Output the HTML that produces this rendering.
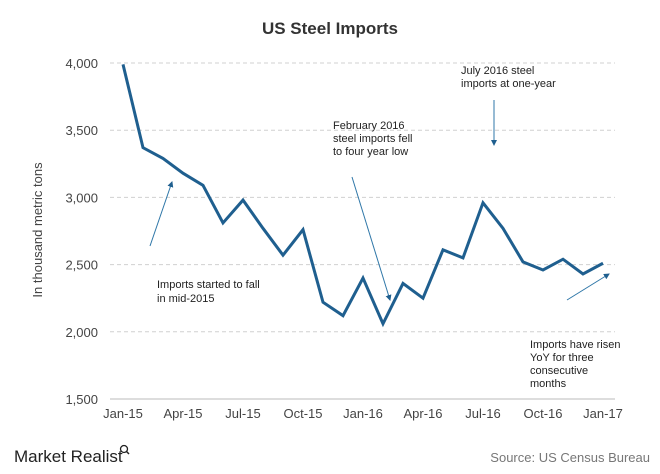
<!DOCTYPE html>
<html><head><meta charset="utf-8"><style>
body{margin:0;background:#fff;font-family:"Liberation Sans",sans-serif}
svg text{font-family:"Liberation Sans",sans-serif}
</style></head><body>
<svg width="660" height="469" viewBox="0 0 660 469">
<text x="330" y="34" text-anchor="middle" font-size="17" font-weight="bold" fill="#333">US Steel Imports</text>
<text transform="translate(42,230) rotate(-90)" text-anchor="middle" font-size="13" fill="#444">In thousand metric tons</text>
<g id="grid"></g><g id="yticks"></g><g id="xticks"></g>
<path id="line" fill="none" stroke="#1f5f8f" stroke-width="3" stroke-linejoin="miter"/>
<g font-size="11" fill="#222">
<text x="157" y="288">Imports started to fall</text>
<text x="157" y="302">in mid-2015</text>
<text x="333" y="129">February 2016</text>
<text x="333" y="142">steel imports fell</text>
<text x="333" y="155">to four year low</text>
<text x="461" y="74">July 2016 steel</text>
<text x="461" y="87">imports at one-year</text>
<text x="530" y="348">Imports have risen</text>
<text x="530" y="361">YoY for three</text>
<text x="530" y="374">consecutive</text>
<text x="530" y="387">months</text>
</g>
<defs><marker id="ah" markerWidth="6" markerHeight="6" refX="5" refY="3" orient="auto" markerUnits="userSpaceOnUse"><path d="M0,0 L6,3 L0,6 z" fill="#1f5f8f"/></marker></defs>
<g stroke="#2f77a8" stroke-width="1">
<line x1="150" y1="246" x2="172" y2="182" marker-end="url(#ah)"/>
<line x1="352" y1="177" x2="390" y2="300" marker-end="url(#ah)"/>
<line x1="494" y1="100" x2="494" y2="145" marker-end="url(#ah)"/>
<line x1="567" y1="300" x2="609" y2="274" marker-end="url(#ah)"/>
</g>
<g>
<text x="14" y="462" font-size="17" fill="#222">Market Realist</text>
<circle cx="124" cy="449" r="3.5" fill="none" stroke="#222" stroke-width="1.3"/>
<line x1="126.5" y1="451.5" x2="129" y2="454" stroke="#222" stroke-width="1.5"/>
</g>
<text x="650" y="462" text-anchor="end" font-size="13" fill="#777">Source: US Census Bureau</text>
</svg>
<script>
const values=[3990,3370,3290,3180,3090,2810,2980,2770,2570,2760,2220,2120,2400,2060,2360,2250,2610,2550,2960,2770,2520,2460,2540,2430,2510];
const yTicks=[1500,2000,2500,3000,3500,4000];
const yTickLabels=["1,500","2,000","2,500","3,000","3,500","4,000"];
const xTickLabels=["Jan-15","Apr-15","Jul-15","Oct-15","Jan-16","Apr-16","Jul-16","Oct-16","Jan-17"];
const xTickIdx=[0,3,6,9,12,15,18,21,24];
const NS="http://www.w3.org/2000/svg";
const x=i=>123+i*20;
const y=v=>399-(v-1500)*(336/2500);
const g=document.getElementById('grid'),yt=document.getElementById('yticks'),xt=document.getElementById('xticks');
yTicks.forEach((v,k)=>{
 const l=document.createElementNS(NS,'line');
 l.setAttribute('x1',110);l.setAttribute('x2',615);l.setAttribute('y1',y(v));l.setAttribute('y2',y(v));
 l.setAttribute('stroke',v===1500?'#bbb':'#d0d0d0');l.setAttribute('stroke-dasharray',v===1500?'':'4,3');
 
 
 g.appendChild(l);
 const t=document.createElementNS(NS,'text');
 t.setAttribute('x',98);t.setAttribute('y',y(v)+5);t.setAttribute('text-anchor','end');t.setAttribute('font-size','13');t.setAttribute('fill','#444');
 t.textContent=yTickLabels[k];
 
 
 yt.appendChild(t);
});
xTickIdx.forEach((i,k)=>{
 const t=document.createElementNS(NS,'text');
 t.setAttribute('x',x(i));t.setAttribute('y',418);t.setAttribute('text-anchor','middle');t.setAttribute('font-size','13');t.setAttribute('fill','#444');
 t.textContent=xTickLabels[k];
 
 
 xt.appendChild(t);
});
document.getElementById('line').setAttribute('d',values.map((v,i)=>(i?'L':'M')+x(i)+','+y(v)).join(' '));
</script>
</body></html>
